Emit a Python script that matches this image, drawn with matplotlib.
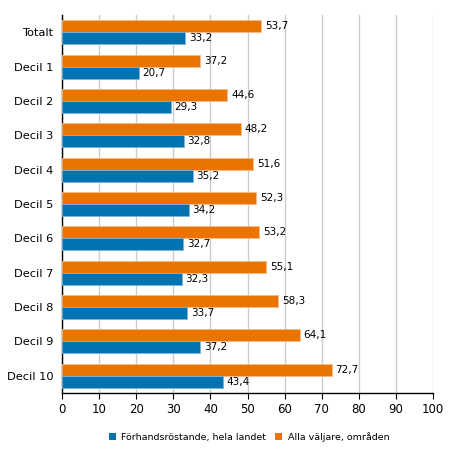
import matplotlib
matplotlib.use("Agg")
import matplotlib.pyplot as plt
import numpy as np
from matplotlib.patches import Patch

categories = ["Totalt", "Decil 1", "Decil 2", "Decil 3", "Decil 4", "Decil 5",
              "Decil 6", "Decil 7", "Decil 8", "Decil 9", "Decil 10"]
forhand = [33.2, 20.7, 29.3, 32.8, 35.2, 34.2, 32.7, 32.3, 33.7, 37.2, 43.4]
alla = [53.7, 37.2, 44.6, 48.2, 51.6, 52.3, 53.2, 55.1, 58.3, 64.1, 72.7]
series_names = ["Förhandsröstande, hela landet", "Alla väljare, områden"]
xticks = list(range(0, 101, 10))

blue = "#0073B0"
orange = "#EB7400"

plt.rcParams['font.family'] = ['DejaVu Sans']
fig = plt.figure(figsize=(4.54, 4.54), dpi=100)
ax = fig.add_axes([62/454, 1 - 393/454, (433-62)/454, (393-15)/454])

y = np.arange(len(categories))
h = 0.35
ax.barh(y - h/2, alla, height=h, color=orange, edgecolor="#F7B98A", linewidth=0.6,
        label=series_names[1], zorder=3)
ax.barh(y + h/2, forhand, height=h, color=blue, edgecolor="#7FB3D8", linewidth=0.6,
        label=series_names[0], zorder=3)

fs = 7.5
for i in range(len(categories)):
    ax.text(alla[i] + 1, y[i] - h/2, f"{alla[i]:.1f}".replace(".", ","),
            va="center", ha="left", fontsize=fs, zorder=4)
    ax.text(forhand[i] + 1, y[i] + h/2, f"{forhand[i]:.1f}".replace(".", ","),
            va="center", ha="left", fontsize=fs, zorder=4)

ax.set_xlim(0, 100)
ax.set_ylim(len(categories) - 0.5, -0.5)
ax.set_xticks(xticks)
ax.set_xticklabels([str(t) for t in xticks], fontsize=8.5)
ax.set_yticks(y)
ax.set_yticklabels(categories, fontsize=8.2)
ax.tick_params(axis="y", length=0, pad=6)
ax.tick_params(axis="x", length=4, width=0.8, color="black", pad=3)
ax.grid(axis="x", color="#CCCCCC", linewidth=1.0, zorder=0)
ax.set_axisbelow(True)
for s in ["top", "right"]:
    ax.spines[s].set_visible(False)
ax.spines["left"].set_color("black")
ax.spines["bottom"].set_color("black")
ax.spines["left"].set_linewidth(1)
ax.spines["bottom"].set_linewidth(1)

leg_handles = [Patch(facecolor=blue), Patch(facecolor=orange)]
fig.legend(leg_handles, series_names, loc="center", bbox_to_anchor=(249/454, 1 - 437/454),
           ncol=2, frameon=False, fontsize=6.8, handlelength=0.75, handleheight=0.75,
           handletextpad=0.6, columnspacing=0.9)

fig.savefig("out.png", dpi=100)
